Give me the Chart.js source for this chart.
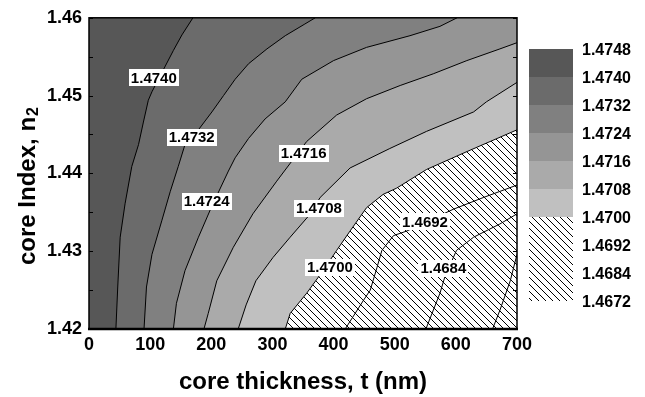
<!DOCTYPE html>
<html><head><meta charset="utf-8">
<style>html,body{margin:0;padding:0;background:#fff;}#wrap{width:645px;height:397px;}</style>
<script src="https://cdn.jsdelivr.net/npm/chart.js@4/dist/chart.umd.min.js"></script>
</head><body><div id="wrap"><canvas id="c" width="645" height="397"></canvas></div>
<script>
const FONT = "'Liberation Sans', Arial, Helvetica, sans-serif";

// axes
const xTicks = [0, 100, 200, 300, 400, 500, 600, 700];
const yTicks = [1.42, 1.43, 1.44, 1.45, 1.46];
const yMinorTicks = [1.425, 1.435, 1.445, 1.455];
const xTitle = 'core thickness, t (nm)';
const yTitle = 'core Index, n';
const yTitleSub = '2';

// contour lines (core thickness in nm, core index n2)
const c4740x = [170, 152, 138, 103, 97, 89, 81, 70, 59, 51, 47, 44];
const c4740y = [1.4600, 1.4578, 1.4558, 1.4505, 1.4494, 1.4466, 1.4437, 1.4409, 1.4361, 1.4318, 1.4254, 1.4200];
const c4732x = [370, 353, 321, 291, 261, 239, 220, 201, 177, 157, 146, 133, 119, 103, 94, 90];
const c4732y = [1.4600, 1.4592, 1.4577, 1.4560, 1.4541, 1.4521, 1.4500, 1.4479, 1.4454, 1.4437, 1.4409, 1.4377, 1.4339, 1.4296, 1.4254, 1.4200];
const c4724x = [602, 574, 525, 454, 400, 348, 321, 288, 261, 239, 228, 201, 179, 157, 143, 138];
const c4724y = [1.4600, 1.4589, 1.4577, 1.4562, 1.4545, 1.4521, 1.4492, 1.4470, 1.4445, 1.4420, 1.4403, 1.4358, 1.4318, 1.4275, 1.4233, 1.4200];
const c4716x = [700, 672, 618, 563, 509, 454, 405, 356, 307, 268, 236, 209, 195, 188];
const c4716y = [1.4568, 1.4560, 1.4545, 1.4528, 1.4513, 1.4496, 1.4475, 1.4441, 1.4390, 1.4348, 1.4305, 1.4262, 1.4220, 1.4200];
const c4708x = [700, 650, 629, 552, 492, 427, 378, 361, 329, 301, 273, 257, 244];
const c4708y = [1.4517, 1.4492, 1.4479, 1.4454, 1.4432, 1.4407, 1.4369, 1.4347, 1.4318, 1.4292, 1.4262, 1.4231, 1.4200];
const c4700x = [700, 618, 552, 503, 481, 454, 427, 405, 381, 356, 329, 321];
const c4700y = [1.4456, 1.4428, 1.4405, 1.4381, 1.4373, 1.4356, 1.4326, 1.4301, 1.4273, 1.4246, 1.4220, 1.4200];
const c4692x = [700, 645, 596, 520, 498, 479, 471, 460, 449, 419];
const c4692y = [1.4385, 1.4369, 1.4354, 1.4326, 1.4320, 1.4301, 1.4279, 1.4250, 1.4237, 1.4200];
const c4684x = [700, 672, 629, 601, 582, 574, 561, 551];
const c4684y = [1.4348, 1.4335, 1.4318, 1.4301, 1.4267, 1.4246, 1.4220, 1.4200];
const c4676x = [700, 689, 672, 660];
const c4676y = [1.4296, 1.4262, 1.4224, 1.4200];

// filled bands (region above each level), darkest last
const bandLevelsX = [c4700x, c4708x, c4716x, c4724x, c4732x, c4740x];
const bandLevelsY = [c4700y, c4708y, c4716y, c4724y, c4732y, c4740y];
const bandColors = ['#c0c0c0', '#aaaaaa', '#959595', '#808080', '#6b6b6b', '#575757'];

// contour labels
const labelText = ['1.4740', '1.4732', '1.4724', '1.4716', '1.4708', '1.4700', '1.4692', '1.4684'];
const labelX = [106, 168, 192.5, 351, 376, 394, 549.5, 579.5];
const labelY = [1.45232, 1.44465, 1.43643, 1.44259, 1.43554, 1.42794, 1.43378, 1.42783];

// colour legend
const legendLevels = ['1.4748', '1.4740', '1.4732', '1.4724', '1.4716', '1.4708', '1.4700', '1.4692', '1.4684', '1.4672'];
const legendFills = ['#575757', '#6b6b6b', '#808080', '#959595', '#aaaaaa', '#c0c0c0', 'hatch', 'hatch', 'hatch'];

const X_MIN = xTicks[0], X_MAX = xTicks[xTicks.length - 1];
const Y_MIN = yTicks[0], Y_MAX = yTicks[yTicks.length - 1];

function makeHatch() {
  const W = 7, H = 7;
  const c = document.createElement('canvas');
  c.width = W; c.height = H;
  const g = c.getContext('2d');
  g.fillStyle = '#fff'; g.fillRect(0, 0, W, H);
  g.fillStyle = '#000';
  for (let i = 0; i < W; i++) {
    g.fillRect(i, Math.round(i * H / W) % H, 1, 1);
  }
  return g.createPattern(c, 'repeat');
}
const hatch = makeHatch();

function pts(xs, ys) { return xs.map((x, i) => ({x: x, y: ys[i]})); }
function regionPoints(xs, ys) {
  const p = pts(xs, ys);
  p.push({x: X_MIN, y: Y_MIN}, {x: X_MIN, y: Y_MAX});
  if (xs[0] >= X_MAX) p.push({x: X_MAX, y: Y_MAX});
  return p;
}

const datasets = [];
datasets.push({
  data: [{x: X_MIN, y: Y_MIN}, {x: X_MAX, y: Y_MIN}, {x: X_MAX, y: Y_MAX}, {x: X_MIN, y: Y_MAX}],
  fill: 'shape', backgroundColor: hatch, borderColor: 'rgba(0,0,0,0)', borderWidth: 0, order: 100
});
bandLevelsX.forEach((xs, i) => {
  datasets.push({
    data: regionPoints(xs, bandLevelsY[i]),
    fill: 'shape', backgroundColor: bandColors[i], borderColor: 'rgba(0,0,0,0)', borderWidth: 0, order: 99 - i
  });
});
[[c4740x, c4740y], [c4732x, c4732y], [c4724x, c4724y], [c4716x, c4716y], [c4708x, c4708y],
 [c4700x, c4700y], [c4692x, c4692y], [c4684x, c4684y], [c4676x, c4676y]].forEach(([xs, ys]) => {
  datasets.push({ data: pts(xs, ys), fill: false, borderColor: '#000', borderWidth: 1, order: 1 });
});

const contourLabels = {
  id: 'contourLabels',
  afterDatasetsDraw(chart) {
    const {ctx, scales: {x, y}} = chart;
    ctx.save();
    ctx.font = 'bold 15px ' + FONT;
    ctx.textAlign = 'center'; ctx.textBaseline = 'middle';
    labelText.forEach((t, i) => {
      const px = x.getPixelForValue(labelX[i]), py = y.getPixelForValue(labelY[i]);
      const w = Math.round(ctx.measureText(t).width + 4), h = 17;
      ctx.fillStyle = '#fff';
      ctx.fillRect(Math.round(px - w / 2), Math.round(py - h / 2), w, h);
      ctx.fillStyle = '#000';
      ctx.fillText(t, px, py + 1);
    });
    ctx.restore();
  }
};

const frame = {
  id: 'frame',
  afterDraw(chart) {
    const {ctx, chartArea: {left, right, top, bottom}, scales: {y}} = chart;
    ctx.save();
    ctx.strokeStyle = '#000';
    ctx.lineWidth = 1;
    yTicks.concat(yMinorTicks).forEach(v => {
      const py = Math.round(y.getPixelForValue(v)) + 0.5;
      ctx.beginPath();
      ctx.moveTo(left, py); ctx.lineTo(left + 4, py);
      ctx.moveTo(right, py); ctx.lineTo(right - 4, py);
      ctx.stroke();
    });
    ctx.lineWidth = 1.5;
    ctx.strokeRect(left, top, right - left, bottom - top);
    ctx.lineWidth = 2.5;
    ctx.beginPath(); ctx.moveTo(left - 1, bottom); ctx.lineTo(right + 1, bottom); ctx.stroke();
    // y title with subscript
    ctx.translate(35, 265); ctx.rotate(-Math.PI / 2);
    ctx.fillStyle = '#000'; ctx.textAlign = 'left'; ctx.textBaseline = 'alphabetic';
    ctx.font = 'bold 24px ' + FONT;
    ctx.fillText(yTitle, 0, 0);
    const w = ctx.measureText(yTitle).width;
    ctx.font = 'bold 16px ' + FONT;
    ctx.fillText(yTitleSub, w + 1, 3);
    ctx.restore();
  }
};

const colorLegend = {
  id: 'colorLegend',
  afterDraw(chart) {
    const ctx = chart.ctx;
    const x0 = chart.chartArea.right + 12, w = 44, top0 = 49, step = 28;
    ctx.save();
    legendFills.forEach((f, i) => {
      ctx.fillStyle = f === 'hatch' ? hatch : f;
      ctx.fillRect(x0, top0 + i * step, w, step);
    });
    ctx.fillStyle = '#000';
    ctx.font = 'bold 16px ' + FONT;
    ctx.textAlign = 'left'; ctx.textBaseline = 'middle';
    legendLevels.forEach((t, i) => ctx.fillText(t, x0 + w + 9, top0 + i * step + 2));
    ctx.restore();
  }
};

new Chart(document.getElementById('c'), {
  type: 'line',
  data: {datasets: datasets},
  options: {
    responsive: false, animation: false, devicePixelRatio: 1, events: [],
    layout: {padding: {left: 0, right: 128, top: 15, bottom: 0}},
    plugins: {legend: {display: false}, tooltip: {enabled: false}},
    elements: {point: {radius: 0, hoverRadius: 0}, line: {tension: 0}},
    scales: {
      x: {
        type: 'linear', min: X_MIN, max: X_MAX,
        afterBuildTicks: s => { s.ticks = xTicks.map(v => ({value: v})); },
        afterFit: s => { s.height = 68; },
        grid: {display: false, drawTicks: false}, border: {display: false},
        ticks: {color: '#000', font: {family: FONT, size: 18, weight: 'bold'}, padding: 5, maxRotation: 0, autoSkip: false},
        title: {display: true, text: xTitle, color: '#000', font: {family: FONT, size: 24, weight: 'bold'}, padding: {top: 0, bottom: 0}}
      },
      y: {
        type: 'linear', min: Y_MIN, max: Y_MAX,
        afterBuildTicks: s => { s.ticks = yTicks.map(v => ({value: v})); },
        afterFit: s => { s.width = 89; },
        grid: {display: false, drawTicks: false}, border: {display: false},
        ticks: {color: '#000', font: {family: FONT, size: 18, weight: 'bold'}, padding: 7, autoSkip: false,
                callback: v => Number(v).toFixed(2)}
      }
    }
  },
  plugins: [contourLabels, frame, colorLegend]
});
</script></body></html>
